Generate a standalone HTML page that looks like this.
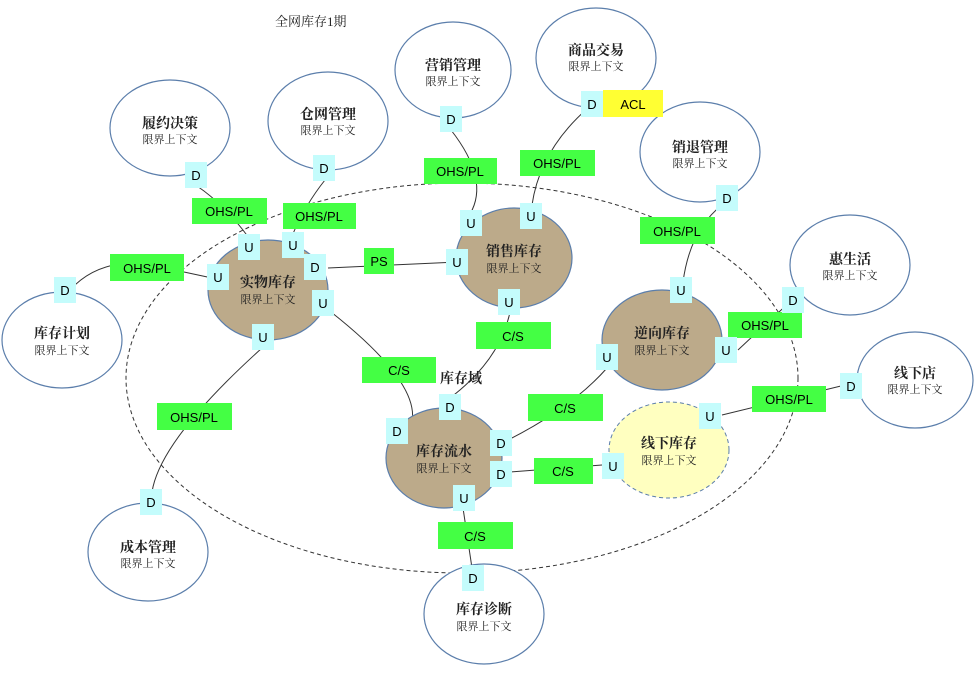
<!DOCTYPE html>
<html><head><meta charset="utf-8"><style>
html,body{margin:0;padding:0;background:#fff;width:979px;height:675px;overflow:hidden}
svg{display:block}
text{font-family:"Liberation Serif","Noto Serif CJK SC","Noto Sans CJK SC",serif;fill:#222}
.t{font-size:14px;font-weight:bold}
.s{font-size:11px}
.l text{font-family:"Liberation Sans","DejaVu Sans",sans-serif;font-size:13px;fill:#000}
.w{fill:#fff;stroke:#5b7eab;stroke-width:1.2}
.b{fill:#bcaa8a;stroke:#5b7eab;stroke-width:1.2}
.g{fill:#44ff44}
.c{fill:#c4fcfc}
line,path.k{stroke:#333;stroke-width:1;fill:none}
</style></head><body>
<svg width="979" height="675" viewBox="0 0 979 675">
<path class="k" d="M197,186 Q225,205 249,238"/>
<path class="k" d="M325,180 Q305,205 292,236"/>
<path class="k" d="M70,290 Q90,268 120,264"/>
<path class="k" d="M184,272 L212,278"/>
<path class="k" d="M328,268 L458,262"/>
<path class="k" d="M451,130 Q490,180 470,214"/>
<path class="k" d="M588,108 Q540,150 532,205"/>
<path class="k" d="M722,205 Q690,230 683,282"/>
<path class="k" d="M790,302 Q770,320 738,350"/>
<path class="k" d="M845,385 L722,415"/>
<path class="k" d="M262,348 Q160,440 152,492"/>
<path class="k" d="M322,305 Q420,380 412,422"/>
<path class="k" d="M510,312 Q500,360 450,398"/>
<path class="k" d="M607,368 Q570,410 500,444"/>
<path class="k" d="M510,472 L602,465"/>
<path class="k" d="M463,508 L472,568"/>
<ellipse cx="462" cy="378" rx="336" ry="195" fill="none" stroke="#333" stroke-width="1" stroke-dasharray="4,3"/>
<ellipse class="w" cx="170" cy="128" rx="60" ry="48"/>
<ellipse class="w" cx="328" cy="121" rx="60" ry="49"/>
<ellipse class="w" cx="453" cy="70" rx="58" ry="48"/>
<ellipse class="w" cx="596" cy="58" rx="60" ry="50"/>
<ellipse class="w" cx="700" cy="152" rx="60" ry="50"/>
<ellipse class="w" cx="850" cy="265" rx="60" ry="50"/>
<ellipse class="w" cx="915" cy="380" rx="58" ry="48"/>
<ellipse class="w" cx="62" cy="340" rx="60" ry="48"/>
<ellipse class="w" cx="148" cy="552" rx="60" ry="49"/>
<ellipse class="w" cx="484" cy="614" rx="60" ry="50"/>
<ellipse class="b" cx="268" cy="290" rx="60" ry="50"/>
<ellipse class="b" cx="514" cy="258" rx="58" ry="50"/>
<ellipse class="b" cx="662" cy="340" rx="60" ry="50"/>
<ellipse class="b" cx="444" cy="458" rx="58" ry="50"/>
<ellipse cx="669" cy="450" rx="60" ry="48" fill="#ffffc0" stroke="#5b7eab" stroke-width="1" stroke-dasharray="4,3"/>
<g text-anchor="middle">
<text class="t" x="170" y="128">履约决策</text><text class="s" x="170" y="143">限界上下文</text>
<text class="t" x="328" y="119">仓网管理</text><text class="s" x="328" y="134">限界上下文</text>
<text class="t" x="453" y="70">营销管理</text><text class="s" x="453" y="85">限界上下文</text>
<text class="t" x="596" y="55">商品交易</text><text class="s" x="596" y="70">限界上下文</text>
<text class="t" x="700" y="152">销退管理</text><text class="s" x="700" y="167">限界上下文</text>
<text class="t" x="850" y="264">惠生活</text><text class="s" x="850" y="279">限界上下文</text>
<text class="t" x="915" y="378">线下店</text><text class="s" x="915" y="393">限界上下文</text>
<text class="t" x="62" y="338">库存计划</text><text class="s" x="62" y="354">限界上下文</text>
<text class="t" x="148" y="552">成本管理</text><text class="s" x="148" y="567">限界上下文</text>
<text class="t" x="484" y="614">库存诊断</text><text class="s" x="484" y="630">限界上下文</text>
<text class="t" x="268" y="287">实物库存</text><text class="s" x="268" y="303">限界上下文</text>
<text class="t" x="514" y="256">销售库存</text><text class="s" x="514" y="272">限界上下文</text>
<text class="t" x="662" y="338">逆向库存</text><text class="s" x="662" y="354">限界上下文</text>
<text class="t" x="444" y="456">库存流水</text><text class="s" x="444" y="472">限界上下文</text>
<text class="t" x="669" y="448">线下库存</text><text class="s" x="669" y="464">限界上下文</text>
</g>
<text x="275" y="26" style="font-size:13px">全网库存1期</text>
<text class="t" x="440" y="383">库存域</text>
<g class="l" text-anchor="middle">
<rect class="g" x="192" y="198" width="75" height="26"/><text x="229" y="216">OHS/PL</text>
<rect class="g" x="283" y="203" width="73" height="26"/><text x="319" y="221">OHS/PL</text>
<rect class="g" x="110" y="254" width="74" height="27"/><text x="147" y="273">OHS/PL</text>
<rect class="g" x="364" y="248" width="30" height="26"/><text x="379" y="266">PS</text>
<rect class="g" x="424" y="158" width="73" height="26"/><text x="460" y="176">OHS/PL</text>
<rect class="g" x="520" y="150" width="75" height="26"/><text x="557" y="168">OHS/PL</text>
<rect class="g" x="640" y="217" width="75" height="27"/><text x="677" y="236">OHS/PL</text>
<rect class="g" x="728" y="312" width="74" height="26"/><text x="765" y="330">OHS/PL</text>
<rect class="g" x="752" y="386" width="74" height="26"/><text x="789" y="404">OHS/PL</text>
<rect class="g" x="157" y="403" width="75" height="27"/><text x="194" y="422">OHS/PL</text>
<rect class="g" x="476" y="322" width="75" height="27"/><text x="513" y="341">C/S</text>
<rect class="g" x="362" y="357" width="74" height="26"/><text x="399" y="375">C/S</text>
<rect class="g" x="528" y="394" width="75" height="27"/><text x="565" y="413">C/S</text>
<rect class="g" x="534" y="458" width="59" height="26"/><text x="563" y="476">C/S</text>
<rect class="g" x="438" y="522" width="75" height="27"/><text x="475" y="541">C/S</text>
<rect x="603" y="90" width="60" height="27" fill="#ffff33"/><text x="633" y="109">ACL</text>
</g>
<g class="l" text-anchor="middle">
<rect class="c" x="185" y="162" width="22" height="26"/><text x="196" y="180">D</text>
<rect class="c" x="313" y="155" width="22" height="26"/><text x="324" y="173">D</text>
<rect class="c" x="440" y="106" width="22" height="26"/><text x="451" y="124">D</text>
<rect class="c" x="581" y="91" width="22" height="26"/><text x="592" y="109">D</text>
<rect class="c" x="716" y="185" width="22" height="26"/><text x="727" y="203">D</text>
<rect class="c" x="782" y="287" width="22" height="26"/><text x="793" y="305">D</text>
<rect class="c" x="840" y="373" width="22" height="26"/><text x="851" y="391">D</text>
<rect class="c" x="54" y="277" width="22" height="26"/><text x="65" y="295">D</text>
<rect class="c" x="140" y="489" width="22" height="26"/><text x="151" y="507">D</text>
<rect class="c" x="462" y="565" width="22" height="26"/><text x="473" y="583">D</text>
<rect class="c" x="238" y="234" width="22" height="26"/><text x="249" y="252">U</text>
<rect class="c" x="282" y="232" width="22" height="26"/><text x="293" y="250">U</text>
<rect class="c" x="207" y="264" width="22" height="26"/><text x="218" y="282">U</text>
<rect class="c" x="304" y="254" width="22" height="26"/><text x="315" y="272">D</text>
<rect class="c" x="312" y="290" width="22" height="26"/><text x="323" y="308">U</text>
<rect class="c" x="252" y="324" width="22" height="26"/><text x="263" y="342">U</text>
<rect class="c" x="460" y="210" width="22" height="26"/><text x="471" y="228">U</text>
<rect class="c" x="520" y="203" width="22" height="26"/><text x="531" y="221">U</text>
<rect class="c" x="446" y="249" width="22" height="26"/><text x="457" y="267">U</text>
<rect class="c" x="498" y="289" width="22" height="26"/><text x="509" y="307">U</text>
<rect class="c" x="670" y="277" width="22" height="26"/><text x="681" y="295">U</text>
<rect class="c" x="715" y="337" width="22" height="26"/><text x="726" y="355">U</text>
<rect class="c" x="596" y="344" width="22" height="26"/><text x="607" y="362">U</text>
<rect class="c" x="699" y="403" width="22" height="26"/><text x="710" y="421">U</text>
<rect class="c" x="439" y="394" width="22" height="26"/><text x="450" y="412">D</text>
<rect class="c" x="386" y="418" width="22" height="26"/><text x="397" y="436">D</text>
<rect class="c" x="490" y="430" width="22" height="26"/><text x="501" y="448">D</text>
<rect class="c" x="490" y="461" width="22" height="26"/><text x="501" y="479">D</text>
<rect class="c" x="453" y="485" width="22" height="26"/><text x="464" y="503">U</text>
<rect class="c" x="602" y="453" width="22" height="26"/><text x="613" y="471">U</text>
</g>
</svg>
</body></html>
